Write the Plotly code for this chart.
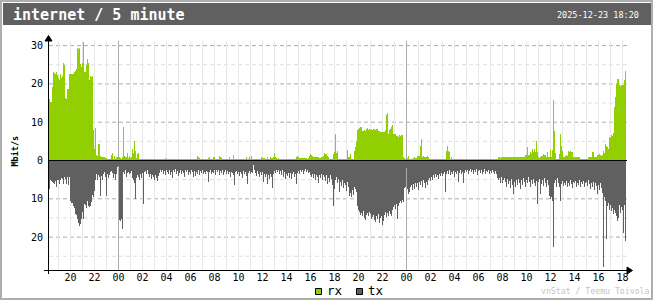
import plotly.graph_objects as go
import pandas as pd

# ---------------- data ----------------
start_time = "2025-12-21 18:15"
step = "5min"
title_text = "internet / 5 minute"
date_text = "2025-12-23 18:20"
unit_label = "Mbit/s"
series_names = ["rx", "tx"]
credit_text = "vnStat / Teemu Toivola"

# rx (Mbit/s), one row per hour of 5-minute samples
rx_values = [
    16.1, 15.3, 15.3, 19.2, 23.0, 22.8, 22.5, 23.0, 22.2, 21.5, 21.0, 22.5,
    21.5, 22.0, 25.5, 25.0, 16.2, 16.0, 18.6, 18.6, 22.5, 22.7, 22.5, 22.6,
    22.7, 23.0, 23.5, 24.0, 29.4, 29.0, 29.5, 25.3, 24.5, 25.5, 30.9, 23.1,
    23.0, 25.0, 26.5, 25.5, 21.0, 22.0, 21.8, 22.0, 8.0, 3.0, 8.4, 1.5,
    1.2, 4.2, 4.2, 1.2, 0.9, 0.8, 0.8, 0.9, 0.7, 0.6, 0.5, 0.5,
    0.5, 0.5, 1.5, 1.9, 0.5, 1.3, 0.5, 0.8, 1.0, 0.7, 1.0, 0.6,
    0.5, 1.0, 8.8, 1.2, 0.8, 1.0, 2.0, 0.7, 1.3, 0.6, 1.0, 2.9,
    2.0, 5.2, 2.4, 0.6, 1.8, 2.0, 0.4, 0.4, 0.3, 0.3, 0.3, 0.3,
    0.3, 0.3, 0.3, 0.3, 0.3, 0.3, 0.3, 0.3, 0.3, 0.3, 0.3, 0.3,
    0.3, 0.3, 0.3, 0.3, 0.3, 0.3, 0.3, 0.3, 0.6, 0.3, 0.3, 0.3,
    0.3, 0.3, 0.3, 0.3, 0.3, 0.3, 0.3, 0.3, 0.3, 0.3, 0.3, 0.3,
    0.3, 0.3, 0.3, 0.3, 0.3, 0.3, 0.3, 0.3, 0.3, 0.3, 0.3, 0.3,
    0.3, 0.3, 0.3, 0.3, 1.3, 1.0, 0.6, 0.3, 0.3, 0.3, 0.3, 0.3,
    0.3, 0.3, 0.3, 0.6, 1.0, 0.3, 0.3, 0.3, 1.0, 1.0, 0.5, 0.3,
    0.3, 0.3, 1.3, 1.0, 0.6, 0.3, 0.3, 0.3, 0.3, 0.3, 0.3, 0.3,
    1.0, 0.3, 0.3, 0.3, 1.4, 0.3, 0.3, 0.3, 0.3, 0.3, 0.3, 0.5,
    0.3, 0.3, 0.3, 0.3, 0.3, 0.9, 0.3, 0.3, 0.9, 0.3, 1.1, 0.3,
    0.3, 0.3, 0.3, 0.3, 0.3, 0.3, 0.3, 0.3, 0.9, 0.6, 0.7, 0.6,
    0.5, 0.5, 1.0, 0.4, 0.5, 0.8, 0.6, 0.7, 1.0, 2.0, 0.9, 0.6,
    0.3, 0.6, 0.3, 0.3, 0.4, 0.3, 0.3, 0.3, 0.3, 0.3, 0.3, 0.3,
    0.3, 0.3, 0.3, 0.3, 0.3, 0.3, 0.5, 0.8, 1.3, 0.9, 0.6, 0.6,
    0.6, 0.6, 0.6, 0.7, 0.6, 0.6, 0.5, 0.6, 1.2, 1.6, 1.4, 1.2,
    1.0, 1.0, 1.0, 1.0, 1.0, 1.0, 0.6, 0.6, 1.0, 0.9, 1.3, 1.9,
    1.8, 1.8, 1.2, 0.9, 0.5, 0.5, 0.5, 0.5, 1.8, 2.3, 6.8, 2.0,
    2.4, 0.5, 0.3, 0.3, 0.3, 0.5, 0.5, 0.3, 0.3, 0.3, 2.8, 0.9,
    1.0, 1.6, 0.4, 0.3, 0.3, 2.4, 3.6, 5.2, 8.0, 8.2, 8.5, 8.8,
    8.8, 7.8, 7.6, 8.0, 7.8, 8.2, 8.5, 8.0, 8.1, 7.9, 8.2, 8.0,
    8.3, 8.1, 7.9, 8.3, 8.1, 7.8, 7.8, 7.5, 7.5, 7.4, 7.4, 7.4,
    7.9, 11.8, 12.3, 6.8, 8.0, 8.3, 8.8, 9.2, 7.0, 6.8, 6.8, 6.3,
    6.3, 6.2, 6.7, 6.5, 6.6, 6.7, 1.0, 0.6, 0.4, 0.3, 0.6, 1.3,
    0.5, 0.4, 0.4, 0.5, 0.6, 1.0, 0.6, 0.6, 1.3, 1.2, 1.3, 3.7,
    5.5, 1.0, 1.2, 1.0, 0.9, 1.0, 1.3, 1.0, 0.3, 0.3, 0.3, 0.3,
    0.3, 0.3, 0.3, 0.3, 0.3, 0.3, 0.3, 0.3, 0.3, 0.3, 0.3, 0.3,
    0.3, 2.6, 3.7, 2.5, 2.2, 0.3, 0.8, 0.3, 0.3, 0.3, 0.3, 0.3,
    0.3, 0.3, 0.3, 0.3, 0.3, 0.3, 0.3, 0.3, 0.3, 0.3, 0.3, 0.3,
    0.3, 0.3, 0.3, 0.3, 0.3, 0.3, 0.3, 0.3, 0.3, 0.3, 0.3, 0.3,
    0.3, 0.3, 0.3, 0.3, 0.3, 0.3, 0.3, 0.3, 0.3, 0.3, 0.3, 0.3,
    0.3, 0.3, 0.3, 0.3, 0.3, 1.0, 1.0, 0.7, 0.9, 0.9, 0.8, 0.9,
    0.9, 0.9, 0.9, 0.9, 0.9, 0.8, 0.9, 0.9, 0.9, 0.9, 0.9, 0.9,
    0.9, 0.9, 0.9, 0.9, 0.9, 0.9, 0.9, 0.9, 1.5, 1.5, 3.5, 1.5,
    1.5, 2.2, 2.0, 3.1, 2.2, 2.9, 2.2, 5.1, 2.1, 0.8, 0.6, 1.0,
    1.2, 1.2, 1.6, 1.5, 1.5, 1.0, 2.1, 1.0, 1.0, 2.8, 1.0, 2.7,
    15.7, 7.8, 2.0, 0.5, 0.5, 0.5, 1.8, 6.8, 3.9, 2.4, 1.0, 0.8,
    1.2, 1.5, 1.2, 2.5, 2.1, 2.4, 2.2, 2.3, 0.8, 0.8, 0.8, 1.0,
    0.8, 0.8, 0.8, 0.5, 0.5, 0.5, 0.5, 0.5, 0.5, 0.5, 0.5, 1.0,
    1.0, 1.0, 1.0, 2.3, 2.3, 1.0, 1.0, 1.0, 1.5, 1.5, 1.8, 1.5,
    1.2, 1.5, 2.4, 2.0, 4.2, 3.8, 3.5, 3.1, 6.1, 6.0, 6.6, 6.5,
    7.2, 14.1, 16.7, 20.0, 21.2, 21.4, 19.8, 19.5, 19.8, 19.8, 19.8, 21.0,
    23.5,
]

# tx (Mbit/s), drawn downward
tx_values = [
    7.4, 5.2, 5.4, 5.6, 5.9, 6.1, 5.4, 7.0, 5.2, 5.0, 6.1, 5.2,
    4.5, 4.8, 6.1, 4.4, 4.9, 6.1, 4.3, 6.5, 4.3, 10.5, 11.0, 11.2,
    12.0, 12.3, 14.0, 14.3, 15.3, 16.2, 17.1, 16.5, 15.3, 13.5, 15.3, 11.3,
    11.5, 12.4, 10.5, 11.8, 12.2, 12.0, 10.8, 9.0, 9.5, 8.0, 5.2, 3.4,
    5.2, 3.8, 4.4, 9.2, 4.0, 5.1, 3.5, 3.0, 4.2, 9.2, 3.6, 4.5,
    3.8, 3.0, 2.8, 3.2, 4.5, 3.6, 5.2, 3.4, 1.7, 1.5, 15.5, 15.8,
    15.2, 17.9, 3.0, 3.4, 2.6, 4.2, 3.2, 2.9, 3.6, 3.3, 2.7, 4.5,
    5.0, 6.0, 10.0, 4.5, 3.8, 4.3, 5.2, 3.4, 4.6, 3.2, 11.3, 3.0,
    2.8, 3.4, 2.6, 3.6, 4.3, 3.5, 4.8, 3.9, 4.4, 5.2, 3.9, 4.6,
    5.4, 4.0, 3.2, 2.6, 3.0, 2.4, 3.5, 2.8, 3.9, 2.5, 3.0, 3.6,
    2.4, 3.8, 2.9, 4.5, 2.6, 3.1, 2.2, 3.5, 2.8, 4.0, 3.3, 2.5,
    3.6, 2.7, 3.2, 4.2, 2.6, 3.0, 2.4, 3.8, 2.9, 3.4, 2.6, 3.1,
    4.3, 2.8, 4.1, 3.0, 3.5, 2.6, 3.9, 2.8, 3.3, 2.5, 3.6, 2.9,
    3.4, 2.7, 3.1, 5.6, 3.0, 2.4, 3.6, 2.9, 3.3, 2.6, 3.8, 2.5,
    3.0, 2.4, 3.7, 2.8, 3.2, 2.6, 3.9, 3.0, 2.5, 3.4, 2.8, 3.6,
    3.1, 4.2, 2.9, 3.3, 3.8, 6.4, 3.0, 2.7, 3.5, 2.9, 4.0, 3.1,
    3.6, 4.5, 2.8, 3.4, 3.0, 4.1, 6.1, 3.2, 2.8, 3.5, 2.9, 3.3,
    1.3, 2.6, 3.2, 4.0, 2.7, 3.5, 4.4, 3.0, 3.8, 2.9, 5.6, 3.4,
    4.2, 3.6, 6.1, 3.9, 4.8, 3.5, 4.4, 7.2, 3.6, 2.8, 3.3, 2.6,
    3.0, 2.5, 3.4, 2.8, 3.9, 2.6, 4.3, 3.1, 4.8, 3.5, 4.0, 3.3,
    4.5, 3.2, 4.9, 3.6, 3.0, 4.2, 3.4, 6.1, 3.3, 2.7, 3.6, 2.5,
    3.0, 2.4, 3.4, 2.8, 2.3, 3.1, 2.6, 3.3, 2.9, 3.8, 4.4, 3.5,
    4.6, 3.6, 5.0, 3.9, 4.2, 6.0, 3.7, 4.5, 3.4, 5.1, 3.8, 4.4,
    5.3, 3.9, 6.1, 4.6, 5.5, 3.8, 4.9, 6.3, 11.8, 7.4, 5.2, 4.4,
    6.0, 4.7, 8.3, 5.5, 6.6, 5.0, 7.2, 5.8, 6.4, 8.0, 5.6, 7.0,
    9.2, 8.6, 9.4, 7.6, 9.0, 6.8, 7.5, 8.2, 12.0, 12.8, 13.5, 14.2,
    13.6, 14.5, 13.2, 15.0, 15.6, 14.2, 13.8, 14.6, 13.4, 14.0, 15.2, 14.8,
    14.2, 15.5, 16.0, 14.6, 15.2, 14.0, 16.3, 15.0, 14.4, 16.8, 15.8, 14.2,
    13.5, 14.8, 13.8, 14.5, 13.2, 13.9, 14.6, 13.0, 12.2, 11.6, 12.6, 11.4,
    15.3, 12.0, 11.0, 10.5, 11.2, 10.2, 10.8, 7.2, 6.8, 2.0, 7.5, 8.8,
    8.2, 7.0, 6.4, 7.8, 6.2, 7.4, 5.8, 6.9, 6.0, 7.6, 5.6, 6.5,
    5.4, 6.8, 5.2, 6.0, 7.2, 5.5, 6.3, 5.0, 4.6, 5.4, 4.2, 5.0,
    3.8, 4.6, 3.5, 4.4, 3.9, 4.8, 3.6, 4.1, 3.2, 4.0, 3.4, 3.0,
    8.3, 3.6, 2.8, 3.4, 2.6, 3.9, 3.0, 3.5, 2.8, 4.2, 3.1, 3.6,
    2.7, 5.6, 3.2, 2.5, 3.4, 2.9, 6.0, 3.3, 2.6, 3.0, 2.4, 3.5,
    2.8, 2.2, 3.1, 2.6, 3.6, 2.5, 3.0, 2.3, 3.8, 2.7, 2.4, 3.2,
    2.6, 3.4, 2.9, 2.3, 3.5, 2.7, 3.1, 2.4, 3.6, 2.8, 3.3, 2.5,
    3.0, 3.4, 2.8, 3.6, 4.5, 5.2, 4.6, 5.8, 4.4, 6.0, 5.0, 4.6,
    5.5, 6.8, 4.8, 6.2, 5.4, 7.2, 4.9, 6.5, 8.7, 5.6, 7.0, 5.2,
    6.4, 4.8, 5.9, 7.4, 5.2, 6.3, 4.6, 5.7, 6.8, 5.0, 6.0, 4.4,
    5.6, 7.0, 5.1, 6.2, 4.8, 5.9, 6.6, 5.3, 11.3, 5.6, 4.9, 8.7,
    6.2, 5.0, 6.6, 4.6, 5.8, 7.0, 5.2, 6.4, 9.2, 10.0, 9.5, 10.5,
    22.7, 6.0, 5.2, 6.8, 4.6, 5.9, 7.0, 10.5, 6.2, 5.4, 6.6, 5.8,
    6.4, 5.4, 7.0, 5.8, 6.6, 5.2, 6.2, 7.2, 5.6, 6.0, 5.3, 6.8,
    5.8, 6.4, 5.0, 6.9, 5.6, 6.2, 5.4, 7.0, 6.0, 5.5, 6.6, 5.2,
    6.2, 7.4, 5.8, 6.8, 5.5, 7.6, 6.0, 6.6, 8.7, 6.3, 7.8, 5.8,
    7.2, 8.4, 27.9, 9.5, 10.5, 20.5, 12.0, 11.0, 12.8, 11.5, 13.2, 12.4,
    14.0, 12.8, 13.6, 14.6, 15.7, 15.0, 11.5, 13.6, 12.2, 13.0, 18.8, 11.5,
    21.0,
]

y_tick_values = [-20, -10, 0, 10, 20, 30]
y_tick_labels = ["20", "10", "0", "10", "20", "30"]
grid_levels = [-25, -20, -15, -10, -5, 5, 10, 15, 20, 25, 30]

# ---------------- styling / geometry ----------------
RX_COLOR = "#92CF00"
TX_COLOR = "#606060"
MONO = "DejaVu Sans Mono"
FIG_W, FIG_H = 654, 300
L, T, W, H = 48, 36, 580, 234
PX_PER_UNIT = 3.83
ZERO_PX = 160.5
y_top = (ZERO_PX - T) / PX_PER_UNIT
y_bot = -(T + H - ZERO_PX) / PX_PER_UNIT


def PX(px):
    return (px - L) / W


def PY(py):
    return (T + H - py) / H


def vy(py):
    return (ZERO_PX - py) / PX_PER_UNIT


rx_times = pd.date_range(start_time, periods=len(rx_values), freq=step)
tx_times = pd.date_range(start_time, periods=len(tx_values), freq=step)
x_start = pd.Timestamp(start_time) - pd.Timedelta("7min 30s")
x_end = x_start + pd.Timedelta(minutes=5 * W)
bar_w = 5 * 60 * 1000

fig = go.Figure()
fig.add_trace(go.Bar(x=rx_times, y=rx_values, width=bar_w, name=series_names[0],
                     marker=dict(color=RX_COLOR, line=dict(width=0))))
fig.add_trace(go.Bar(x=tx_times, y=[-v for v in tx_values], width=bar_w,
                     name=series_names[1],
                     marker=dict(color=TX_COLOR, line=dict(width=0))))

shapes = []
# hour lines
hours = pd.date_range(x_start.ceil("h"), x_end, freq="h")
for h in hours:
    midnight = h.hour == 0
    shapes.append(dict(type="line", xref="x", yref="y", x0=h, x1=h,
                       y0=y_bot, y1=vy(41), layer="below",
                       line=dict(color="#ABABAB" if midnight else "#E8E8E8", width=1)))
# horizontal dashed grid
for g in grid_levels:
    major = g % 10 == 0
    shapes.append(dict(type="line", xref="paper", yref="y", x0=PX(49), x1=PX(628),
                       y0=g, y1=g, layer="below",
                       line=dict(color="#ABABAB" if major else "#DEDEDE", width=1,
                                 dash="4px,3px")))
# zero line
shapes.append(dict(type="line", xref="paper", yref="y", x0=PX(48), x1=PX(627),
                   y0=0, y1=0, layer="above", line=dict(color="black", width=1)))
# axes
shapes.append(dict(type="line", xref="paper", yref="paper", x0=PX(44), x1=PX(628),
                   y0=PY(270.5), y1=PY(270.5), layer="above",
                   line=dict(color="black", width=1)))
shapes.append(dict(type="line", xref="paper", yref="paper", x0=PX(48.5), x1=PX(48.5),
                   y0=PY(274), y1=PY(40), layer="above",
                   line=dict(color="black", width=1)))


def path(points):
    s = "M " + " L ".join(f"{PX(a):.5f},{PY(b):.5f}" for a, b in points) + " Z"
    return s


shapes.append(dict(type="path", xref="paper", yref="paper",
                   path=path([(627, 267), (632.5, 270.5), (627, 274)]),
                   fillcolor="black", line=dict(color="black", width=1), layer="above"))
shapes.append(dict(type="path", xref="paper", yref="paper",
                   path=path([(45, 41), (48.5, 35.5), (52, 41)]),
                   fillcolor="black", line=dict(color="black", width=1), layer="above"))
# header bar
shapes.append(dict(type="rect", xref="paper", yref="paper", x0=PX(3), x1=PX(651),
                   y0=PY(25), y1=PY(3), fillcolor="#606060", line=dict(width=0),
                   layer="above"))
# outer border
shapes.append(dict(type="rect", xref="paper", yref="paper", x0=PX(1), x1=PX(652),
                   y0=PY(299), y1=PY(1), line=dict(color="#AEAEAE", width=2),
                   layer="above"))
# legend squares
shapes.append(dict(type="rect", xref="paper", yref="paper", x0=PX(315.5), x1=PX(321.5),
                   y0=PY(294.5), y1=PY(288.5), fillcolor=RX_COLOR,
                   line=dict(color="black", width=1), layer="above"))
shapes.append(dict(type="rect", xref="paper", yref="paper", x0=PX(356.5), x1=PX(362.5),
                   y0=PY(294.5), y1=PY(288.5), fillcolor=TX_COLOR,
                   line=dict(color="black", width=1), layer="above"))

annotations = [
    dict(text="<b>" + title_text + "</b>", xref="paper", yref="paper", x=PX(11),
         y=PY(14.5), xanchor="left", yanchor="middle", showarrow=False,
         font=dict(family=MONO, size=15, color="white")),
    dict(text=date_text, xref="paper", yref="paper", x=PX(641), y=PY(14.5),
         xanchor="right", yanchor="middle", showarrow=False,
         font=dict(family=MONO, size=8.5, color="white")),
    dict(text="<b>" + unit_label + "</b>", xref="paper", yref="paper", x=PX(14.5),
         y=PY(151), xanchor="center", yanchor="middle", showarrow=False,
         textangle=-90, font=dict(family=MONO, size=8.5, color="black")),
    dict(text=series_names[0], xref="paper", yref="paper", x=PX(324.5), y=PY(290.5),
         xanchor="left", yanchor="middle", showarrow=False,
         font=dict(family=MONO, size=12.5, color="black")),
    dict(text=series_names[1], xref="paper", yref="paper", x=PX(365.5), y=PY(290.5),
         xanchor="left", yanchor="middle", showarrow=False,
         font=dict(family=MONO, size=12.5, color="black")),
    dict(text=credit_text, xref="paper", yref="paper", x=PX(539),
         y=PY(291), xanchor="left", yanchor="middle", showarrow=False,
         font=dict(family=MONO, size=8.2, color="#C4C4C4")),
]

fig.update_layout(
    width=FIG_W, height=FIG_H,
    margin=dict(l=L, r=FIG_W - L - W, t=T, b=FIG_H - T - H, pad=0),
    paper_bgcolor="white", plot_bgcolor="white",
    barmode="overlay", bargap=0, showlegend=False,
    shapes=shapes, annotations=annotations,
    xaxis=dict(type="date", range=[x_start, x_end], showgrid=False, zeroline=False,
               showline=False, ticks="", tickformat="%H",
               tick0="2025-12-21 00:00", dtick=2 * 3600 * 1000,
               tickfont=dict(family=MONO, size=10, color="black"),
               ticklabelstandoff=0),
    yaxis=dict(range=[y_bot, y_top], showgrid=False, zeroline=False, showline=False,
               ticks="", tickvals=y_tick_values, ticktext=y_tick_labels,
               tickfont=dict(family=MONO, size=10, color="black"),
               ticklabelstandoff=4),
)

fig.write_html("out.html")
